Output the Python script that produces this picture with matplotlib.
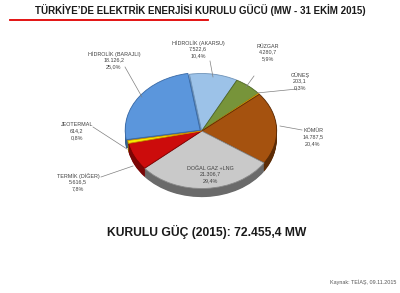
import matplotlib
matplotlib.use("Agg")
import matplotlib.pyplot as plt
import numpy as np

plt.rcParams['font.family'] = ['Liberation Sans', 'DejaVu Sans']

# Installed capacity by source (MW), clockwise from the top
sources = ["HİDROLİK (AKARSU)", "RÜZGAR", "GÜNEŞ", "KÖMÜR",
           "DOĞAL GAZ +LNG", "TERMİK (DİĞER)", "JEOTERMAL", "HİDROLİK (BARAJLI)"]
capacity = [7522.6, 4280.7, 203.1, 14787.5, 21306.7, 5616.5, 614.2, 18126.2]
value_labels = ["7.522,6", "4.280,7", "203,1", "14.787,5",
                "21.306,7", "5.616,5", "614,2", "18.126,2"]
pct_labels = ["10,4%", "5,9%", "0,3%", "20,4%", "29,4%", "7,8%", "0,8%", "25,0%"]

top_colors = ["#9cc2e8", "#77943a", "#f2e600", "#a5520f",
              "#c9c9c9", "#cc0c0c", "#f5ee00", "#5b96dc"]
side_colors = ["#5f84aa", "#4b5f25", "#9a9000", "#5c2c06",
               "#6a6a6a", "#7a0606", "#9a9400", "#34608f"]
edge_colors = ["#6f93b8", "#4f6626", "#d08a00", "#5a2a05",
               "#8a8a8a", "#800000", "#d08a00", "#3a6aa6"]
explode = [0, 0, 0, 0, 0, 0, 0, 0.025]

W, H = 400, 293
fig = plt.figure(figsize=(W / 100, H / 100), dpi=100)
fig.patch.set_facecolor("white")


def fx(px):
    return px / W


def fy(py):
    return 1 - py / H


# pie axes: centre (201.7, 131) px, radius 75 px across, 57.5 px tall
cx, cy, rx, ry = 201.7, 131.0, 75.0, 57.5
ax = fig.add_axes([fx(cx - 1.5 * rx), fy(cy + 1.5 * ry), 3 * rx / W, 3 * ry / H])

depth = 0.15
steps = 12
for k in range(steps, 0, -1):
    ax.pie(capacity, colors=side_colors, startangle=99.4, counterclock=False,
           explode=explode, center=(0, -depth * k / steps),
           wedgeprops=dict(linewidth=0))
wedges, _ = ax.pie(capacity, colors=top_colors, startangle=99.4, counterclock=False,
                   explode=explode, wedgeprops=dict(linewidth=0.6))
for w, ec in zip(wedges, edge_colors):
    w.set_edgecolor(ec)
ax.set_aspect("auto")
ax.set_xlim(-1.5, 1.5)
ax.set_ylim(-1.5, 1.5)
ax.axis("off")

# label positions (px) and leader lines (from label to wedge)
label_xy = {
    "HİDROLİK (AKARSU)": (198, 43),
    "RÜZGAR": (268, 46),
    "GÜNEŞ": (300, 75),
    "KÖMÜR": (313, 131),
    "DOĞAL GAZ +LNG": (210, 168),
    "TERMİK (DİĞER)": (78, 176),
    "JEOTERMAL": (77, 125),
    "HİDROLİK (BARAJLI)": (114, 54),
}
leaders = {
    "HİDROLİK (AKARSU)": [(210, 61), (213, 77)],
    "RÜZGAR": [(254, 76), (246, 87)],
    "GÜNEŞ": [(297, 89), (257, 93)],
    "KÖMÜR": [(302, 130), (280, 126)],
    "TERMİK (DİĞER)": [(101, 177), (133, 166)],
    "JEOTERMAL": [(93, 127), (127, 149)],
    "HİDROLİK (BARAJLI)": [(125, 67), (142, 97)],
}

for name, val, pct in zip(sources, value_labels, pct_labels):
    x, y = label_xy[name]
    for i, s in enumerate([name, val, pct]):
        fig.text(fx(x), fy(y + i * 6.2), s, ha="center", va="center",
                 fontsize=3.9, color="#404040")
    if name in leaders:
        (x0, y0), (x1, y1) = leaders[name]
        fig.add_artist(plt.Line2D([fx(x0), fx(x1)], [fy(y0), fy(y1)],
                                  color="#808080", lw=0.5))

fig.text(0.5, fy(10), "TÜRKİYE’DE ELEKTRİK ENERJİSİ KURULU GÜCÜ (MW - 31 EKİM 2015)",
         ha="center", va="center", fontsize=7.0, fontweight="bold", color="#1a1a1a")
fig.add_artist(plt.Line2D([fx(10), fx(208)], [fy(20), fy(20)], color="#e00000", lw=1.3))

fig.text(fx(206.5), fy(232), "KURULU GÜÇ (2015): 72.455,4 MW", ha="center", va="center",
         fontsize=8.7, fontweight="bold", color="#1a1a1a")
fig.text(fx(396), fy(282), "Kaynak: TEİAŞ, 09.11.2015", ha="right", va="center",
         fontsize=3.9, color="#555555")

fig.savefig("out.png", dpi=100, facecolor="white")
